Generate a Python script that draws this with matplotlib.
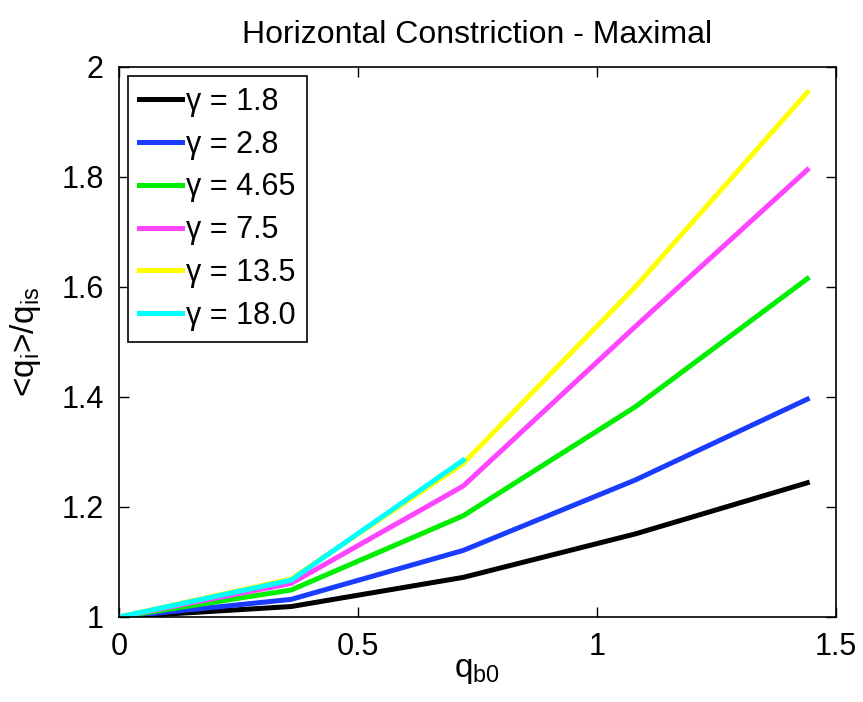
import numpy as np
import matplotlib
matplotlib.use('Agg')
import matplotlib.pyplot as plt

plt.rcParams['font.family'] = ['Liberation Sans', 'DejaVu Sans']
plt.rcParams['mathtext.default'] = 'regular'

# data
q_b0 = [0, 0.36, 0.72, 1.08, 1.44]
gammas = ['1.8', '2.8', '4.65', '7.5', '13.5', '18.0']
ratio_18 = [1.0, 1.019, 1.072, 1.151, 1.244]
ratio_28 = [1.0, 1.032, 1.121, 1.249, 1.396]
ratio_465 = [1.0, 1.049, 1.184, 1.382, 1.615]
ratio_75 = [1.0, 1.061, 1.238, 1.528, 1.813]
ratio_135 = [1.0, 1.069, 1.279, 1.600, 1.954]
ratio_180 = [1.0, 1.067, 1.285]

series = [ratio_18, ratio_28, ratio_465, ratio_75, ratio_135, ratio_180]
colors = ['#000000', '#1a3cff', '#00ee00', '#ff44ff', '#ffff00', '#00ffff']

fig = plt.figure(figsize=(8.63, 7.02), dpi=100)
ax = fig.add_axes([0.1379, 0.1211, 0.8308, 0.7835])

for g, vals, c in zip(gammas, series, colors):
  ax.plot(q_b0[:len(vals)], vals, color=c, lw=3.6, label='\u03b3 = ' + g)

ax.set_xlim(0, 1.5)
ax.set_ylim(1, 2)
ax.set_xticks([0, 0.5, 1, 1.5])
ax.set_xticklabels(['0', '0.5', '1', '1.5'])
ax.set_yticks([1, 1.2, 1.4, 1.6, 1.8, 2])
ax.set_yticklabels(['1', '1.2', '1.4', '1.6', '1.8', '2'])
ax.tick_params(direction='in', top=True, right=True, labelsize=22, length=7, width=1, pad=11)
for s in ax.spines.values():
  s.set_linewidth(1.2)

ax.set_title('Horizontal Constriction - Maximal', fontsize=23, pad=17)
ax.set_xlabel('q$_{b0}$', fontsize=24, labelpad=-5)
ax.set_ylabel('<q$_{i}$>/q$_{is}$', fontsize=24, labelpad=13)

leg = ax.legend(loc='upper left', fontsize=22, handlelength=1.4, handletextpad=0.15,
                borderpad=0.35, labelspacing=0.42, fancybox=False, framealpha=1,
                borderaxespad=0.3)
leg.get_frame().set_edgecolor('black')
leg.get_frame().set_linewidth(1.2)

plt.savefig('out.png', dpi=100)
